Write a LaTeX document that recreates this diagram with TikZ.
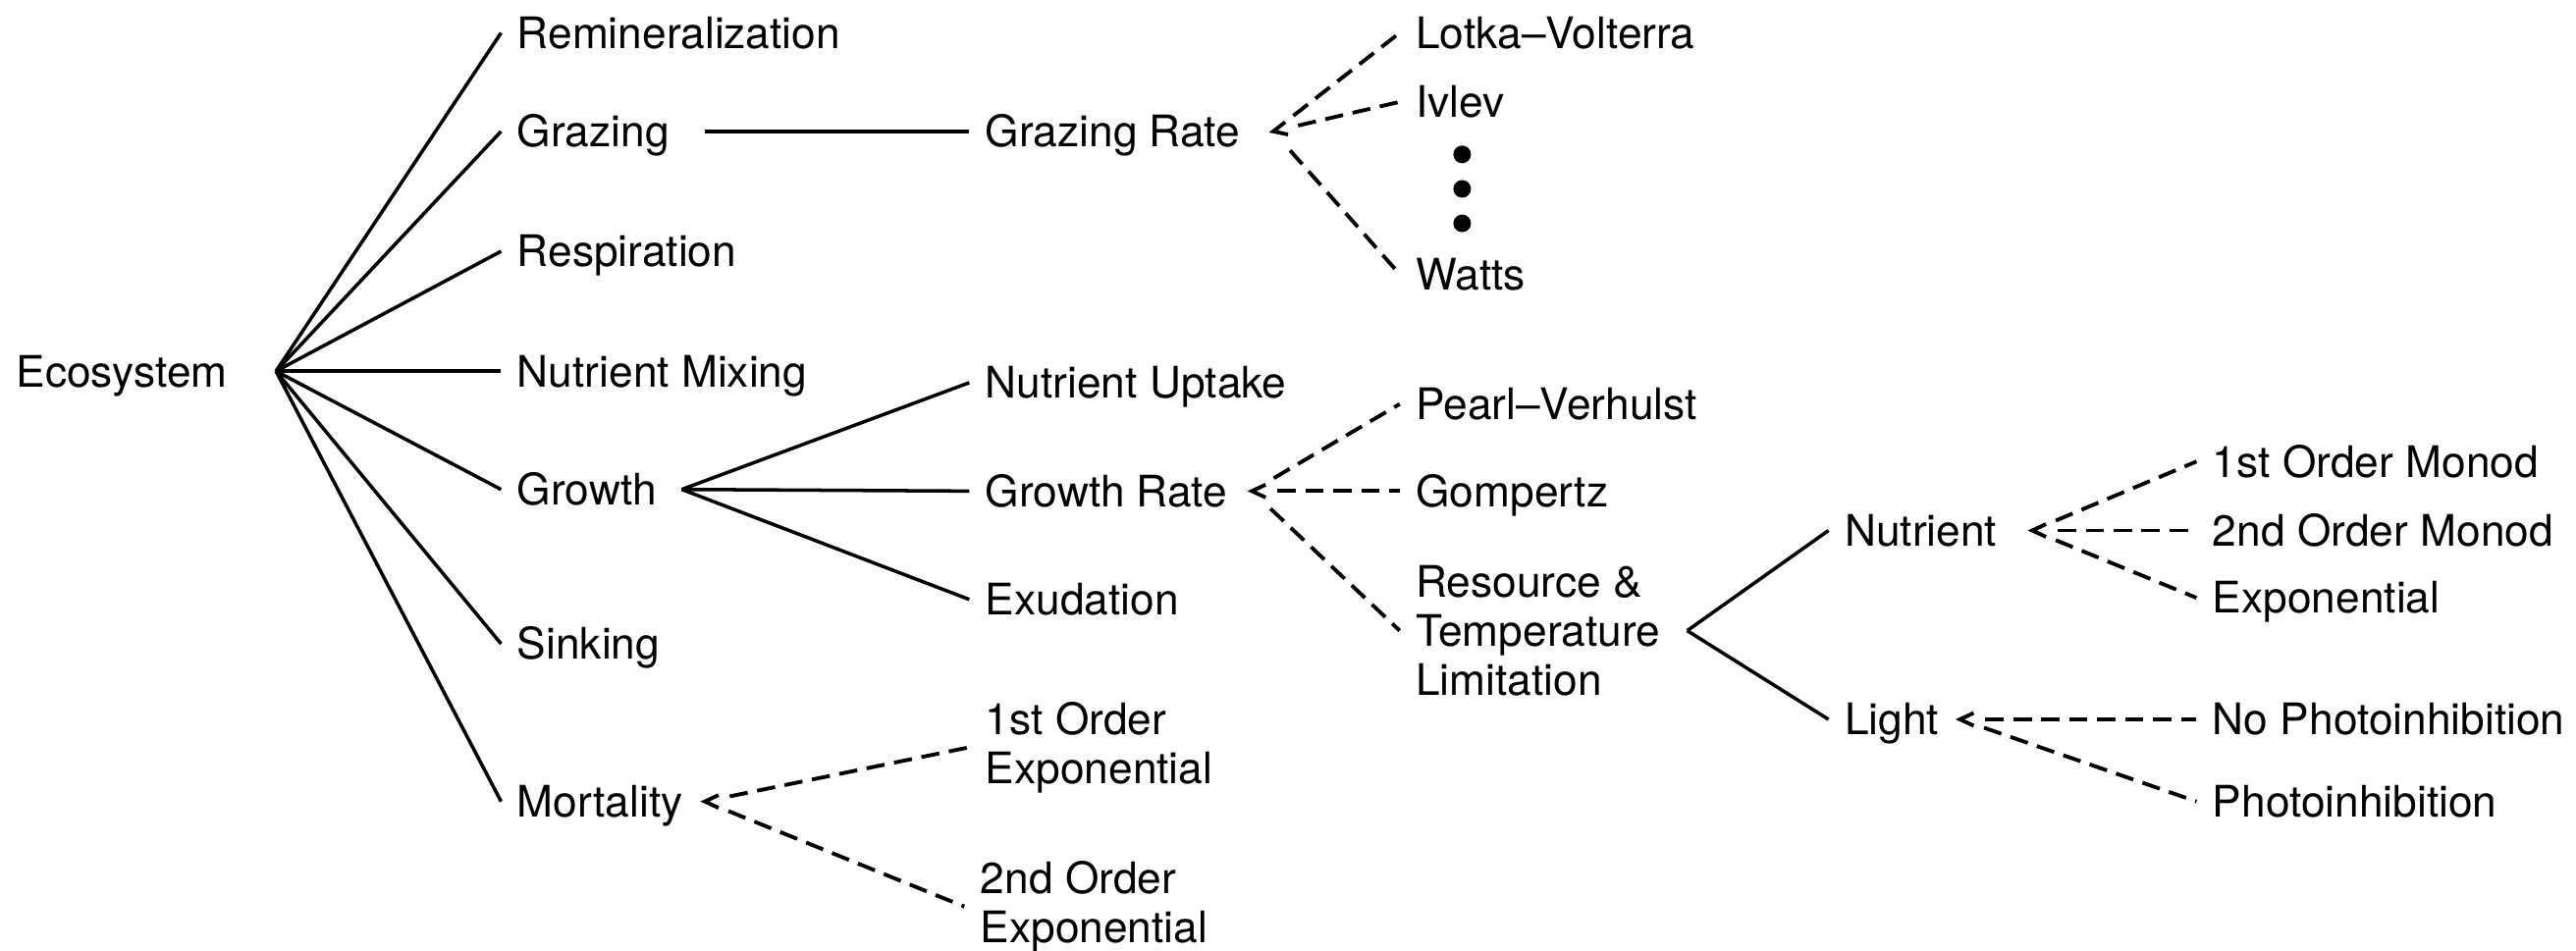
\documentclass[tikz,border=0pt]{standalone}
\usepackage{fontspec}
\setmainfont{TeX Gyre Heros}
\tikzset{
  lbl/.style={anchor=west, inner xsep=4.5pt, inner ysep=0pt, text height=9pt, text depth=0pt, font=\fontsize{12.6}{14.2}\selectfont},
  lbltwo/.style={anchor=west, inner xsep=4.5pt, inner ysep=0pt, align=left, font=\fontsize{12.6}{14.2}\selectfont},
  branch/.style={line width=1pt},
  choice/.style={line width=1.1pt, dash pattern=on 5.3pt off 2.8pt, shorten <=0.26cm},
  hubtip/.pic={\draw[line width=1.1pt, line join=miter] (0.14cm,0.065cm)--(0,0)--(0.14cm,-0.065cm);}
}

\begin{document}
\begin{tikzpicture}[x=0.016735cm, y=-0.016735cm]
\useasboundingbox (0,0) rectangle (1568,579);

\node[lbl] (eco) at (0,226) {Ecosystem};
\coordinate (ecoHub) at (168,226);

\node[lbl] (remin) at (305,20) {Remineralization};
\node[lbl] (graz) at (305,80) {Grazing};
\node[lbl] (resp) at (305,153) {Respiration};
\node[lbl] (mix) at (305,226) {Nutrient Mixing};
\node[lbl] (grow) at (305,298) {Growth};
\node[lbl] (sink) at (305,392) {Sinking};
\node[lbl] (mort) at (305,488) {Mortality};

\foreach \n in {remin,graz,resp,mix,grow,sink,mort}{
	\draw[branch] (ecoHub)--(\n.west);
}

% grazing
\coordinate (grazHub) at (429,80);
\node[lbl] (grazRate) at (590,80) {Grazing Rate};
\draw[branch] (grazHub)--(grazRate.west);
\coordinate (grazRateHub) at (775,80);
\node[lbl] (lotka) at (852,20) {Lotka–Volterra};
\node[lbl] (ivlev) at (852,62) {Ivlev};
\node[lbl] (watts) at (852,167) {Watts};
\foreach \m in {lotka,ivlev,watts}{
	\draw[choice] (grazRateHub)--(\m.west);
}
\pic[rotate=13] at (grazRateHub) {hubtip};
\foreach \y in {94,115,136}{
	\fill (890,\y) circle[radius=0.9mm];
}

% growth
\coordinate (growHub) at (415,298);
\node[lbl] (uptake) at (590,233) {Nutrient Uptake};
\node[lbl] (growRate) at (590,299) {Growth Rate};
\node[lbl] (exud) at (590,365) {Exudation};
\foreach \n in {uptake,growRate,exud}{
	\draw[branch] (growHub)--(\n.west);
}
\coordinate (growRateHub) at (762,299);
\node[lbl] (pearl) at (852,246) {Pearl–Verhulst};
\node[lbl] (gomp) at (852,299) {Gompertz};
\node[lbltwo] (limit) at (852,384) {Resource \&\\Temperature\\Limitation};
\foreach \m in {pearl,gomp,limit}{
	\draw[choice] (growRateHub)--(\m.west);
}
\pic at (growRateHub) {hubtip};

\coordinate (limitHub) at (1027,384);
\node[lbl] (nutr) at (1113,323) {Nutrient};
\node[lbl] (light) at (1113,438) {Light};
\draw[branch] (limitHub)--(nutr.west);
\draw[branch] (limitHub)--(light.west);

\coordinate (nutrHub) at (1237,323);
\node[lbl] (monodA) at (1337,281) {1st Order Monod};
\node[lbl] (monodB) at (1337,323) {2nd Order Monod};
\node[lbl] (expo) at (1337,364) {Exponential};
\foreach \m in {monodA,monodB,expo}{
	\draw[choice] (nutrHub)--(\m.west);
}
\pic at (nutrHub) {hubtip};

\coordinate (lightHub) at (1193,438);
\node[lbl] (noinhib) at (1337,438) {No Photoinhibition};
\node[lbl] (inhib) at (1337,488) {Photoinhibition};
\draw[choice] (lightHub)--(noinhib.west);
\draw[choice] (lightHub)--(inhib.west);
\pic at (lightHub) {hubtip};

% mortality
\coordinate (mortHub) at (429,488);
\node[lbltwo] (mortA) at (590,455) {1st Order\\Exponential};
\node[lbltwo] (mortB) at (587,552) {2nd Order\\Exponential};
\draw[choice] (mortHub)--(mortA.west);
\draw[choice] (mortHub)--(mortB.west);
\pic at (mortHub) {hubtip};
\end{tikzpicture}
\end{document}
